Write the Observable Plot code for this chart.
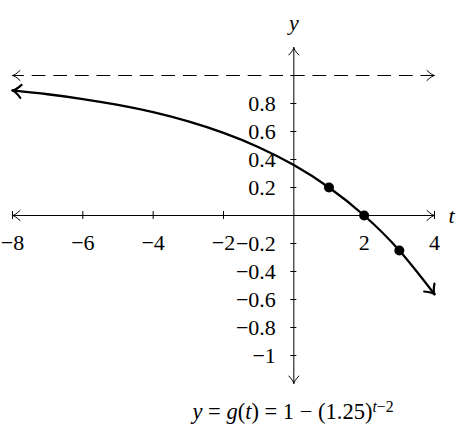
<!DOCTYPE html>
<html>
<head>
<meta charset="utf-8">
<script src="https://cdn.jsdelivr.net/npm/d3@7"></script>
<script src="https://cdn.jsdelivr.net/npm/@observablehq/plot@0.6"></script>
<style>
  body { margin: 0; background: #fff; }
  #wrap { position: relative; width: 463px; height: 441px; overflow: hidden; background: #fff; }
  #cap { position: absolute; top: 401px; left: 293px; transform: translateX(-50%); white-space: nowrap;
         font-family: "Liberation Serif", "DejaVu Serif", serif; font-size: 22.5px; line-height: 22px; color: #000; }
  #cap sup { font-size: 0.7em; vertical-align: 0.45em; line-height: 0; }
</style>
</head>
<body>
<div id="wrap"><div id="chart"></div><div id="cap"><i>y</i> = <i>g</i>(<i>t</i>) = 1 − (1.25)<sup><i>t</i>−2</sup></div></div>
<script>
// ---- data ----
const tValues = [-8, -7, -6, -5, -4, -3, -2, -1, 0, 1, 2, 3, 4];
const gValues = [0.893, 0.866, 0.832, 0.790, 0.738, 0.672, 0.590, 0.488, 0.360, 0.200, 0, -0.250, -0.5625];
const pointT = [1, 2, 3];
const pointG = [0.2, 0, -0.25];
const xTicks = [-8, -6, -4, -2, 2, 4];
const xTickLabels = ["−8", "−6", "−4", "−2", "2", "4"];
const yTicks = [-1, -0.8, -0.6, -0.4, -0.2, 0.2, 0.4, 0.6, 0.8, 1];
const yLabelValues = [-1, -0.8, -0.6, -0.4, -0.2, 0.2, 0.4, 0.6, 0.8];
const yTickLabels = ["−1", "−0.8", "−0.6", "−0.4", "−0.2", "0.2", "0.4", "0.6", "0.8"];
const asymptote = 1;
const xDomain = [-8, 4];
const yDomain = [-1.2, 1.2];

// ---- helpers ----
function openArrow(len, half, sw) {
  return (color) => {
    const m = d3.create("svg:marker")
      .attr("viewBox", `${-len - 2} ${-half - 2} ${len + 4} ${2 * half + 4}`)
      .attr("markerUnits", "userSpaceOnUse")
      .attr("markerWidth", len + 4)
      .attr("markerHeight", 2 * half + 4)
      .attr("refX", 0).attr("refY", 0)
      .attr("orient", "auto-start-reverse")
      .attr("overflow", "visible");
    m.append("path")
      .attr("d", `M${-len},${-half} C${-len * 0.55},${-half * 0.35} ${-len * 0.2},${-half * 0.05} 0,0 C${-len * 0.2},${half * 0.05} ${-len * 0.55},${half * 0.35} ${-len},${half}`)
      .attr("fill", "none")
      .attr("stroke", color)
      .attr("stroke-width", sw)
      .attr("stroke-dasharray", "none")
      .attr("stroke-linecap", "round");
    return m.node();
  };
}
const axisArrow = openArrow(7.5, 5, 1);
const curveArrow = openArrow(8.5, 6.5, 2.2);

const curveData = tValues.map((t, i) => ({t, g: gValues[i]}));
const pointData = pointT.map((t, i) => ({t, g: pointG[i]}));

const plot = Plot.plot({
  width: 463,
  height: 392,
  marginLeft: 12,
  marginRight: 29,
  marginTop: 47,
  marginBottom: 9,
  x: {domain: xDomain, axis: null},
  y: {domain: yDomain, axis: null},
  style: {fontFamily: "'Liberation Serif', 'DejaVu Serif', serif", fontSize: "22px", color: "black", background: "white", overflow: "visible"},
  marks: [
    // asymptote
    Plot.line(xDomain, {x: d => d, y: () => asymptote, stroke: "black", strokeWidth: 1,
      strokeDasharray: "13,8.6", strokeDashoffset: 2, markerStart: axisArrow, markerEnd: axisArrow}),
    // axes
    Plot.line(xDomain, {x: d => d, y: () => 0, stroke: "black", strokeWidth: 1, markerStart: axisArrow, markerEnd: axisArrow}),
    Plot.line(yDomain, {x: () => 0, y: d => d, stroke: "black", strokeWidth: 1, markerStart: axisArrow, markerEnd: axisArrow}),
    // ticks
    Plot.ruleX(xTicks, {x: d => d, y1: () => 0, y2: () => 0, insetTop: -4, insetBottom: -4, stroke: "black", strokeWidth: 1}),
    Plot.ruleY(yTicks, {y: d => d, x1: () => 0, x2: () => 0, insetLeft: -3, insetRight: -3, stroke: "black", strokeWidth: 1}),
    // tick labels
    Plot.text(xTicks, {x: d => d, y: () => 0, text: (d, i) => xTickLabels[i], dy: 27, fill: "black"}),
    Plot.text(yLabelValues, {x: () => 0, y: d => d, text: (d, i) => yTickLabels[i], textAnchor: "end", dx: -18, fill: "black"}),
    // axis names
    Plot.text(["y"], {x: () => 0, y: () => yDomain[1], text: d => d, dy: -25, fontStyle: "italic", fill: "black"}),
    Plot.text(["t"], {x: () => xDomain[1], y: () => 0, text: d => d, dx: 17, fontStyle: "italic", fill: "black"}),
    // curve
    Plot.line(curveData, {x: "t", y: "g", curve: "natural", stroke: "black", strokeWidth: 2.3, markerStart: curveArrow, markerEnd: curveArrow}),
    Plot.dot(pointData, {x: "t", y: "g", r: 5, fill: "black", stroke: "none"})
  ]
});
document.getElementById("chart").appendChild(plot);
</script>
</body>
</html>
